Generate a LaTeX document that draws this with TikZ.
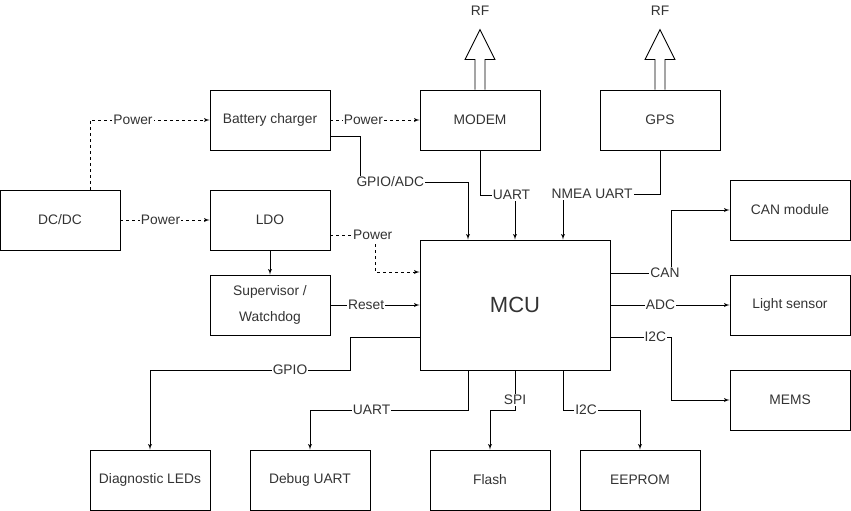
\documentclass[tikz,border=0pt]{standalone}
\usepackage{fontspec}
\setmainfont{Liberation Sans}
\usetikzlibrary{shapes,arrows}
\tikzstyle{block} = [draw, rectangle, minimum width=120pt, minimum height=60pt,
    inner sep=0pt, align=center, text=black!80, font=\fontsize{13.8}{16}\selectfont]
\tikzstyle{line} = [draw, -latex']
\tikzstyle{pline} = [draw, dashed, -latex']
\tikzstyle{lbl} = [fill=white, inner sep=1pt, text=black!80, font=\fontsize{13.8}{16}\selectfont]

\begin{document}
\begin{tikzpicture}[x=1pt, y=-1pt, line width=0.9pt]
    \useasboundingbox (0,0) rectangle (851,511);
    \node [block] (dcdc) at (60,220) {DC/DC};
    \node [block] (charger) at (270,120) {Battery charger};
    \node [block] (ldo) at (270,220) {LDO};
    \node [block] (super) at (270,305) {Supervisor /\\[10pt]Watchdog};
    \node [block] (modem) at (480,120) {MODEM};
    \node [block] (gps) at (660,120) {GPS};
    \node [block, minimum width=190pt, minimum height=130pt, font=\fontsize{22}{26}\selectfont] (mcu) at (515,305) {MCU};
    \node [block] (can) at (790,210) {CAN module};
    \node [block] (light) at (790,305) {Light sensor};
    \node [block] (mems) at (790,400) {MEMS};
    \node [block] (leds) at (150,480) {Diagnostic LEDs};
    \node [block] (dbg) at (310,480) {Debug UART};
    \node [block] (flash) at (490,480) {Flash};
    \node [block] (eeprom) at (640,480) {EEPROM};
    \node [lbl] (rfm) at (480,11) {RF};
    \node [lbl] (rfg) at (660,11) {RF};
    % antennas
    \draw ([xshift=-5pt]modem.north) -- ++(0,-30) -- ++(-10,0) -- ++(15,-30) -- ++(15,30) -- ++(-10,0) -- ++(0,30);
    \draw ([xshift=-5pt]gps.north) -- ++(0,-30) -- ++(-10,0) -- ++(15,-30) -- ++(15,30) -- ++(-10,0) -- ++(0,30);
    % power
    \path [pline] ([xshift=30pt]dcdc.north) |- node [lbl, pos=0.68] {Power} (charger.west);
    \path [pline] (dcdc) -- node [lbl, pos=0.45] {Power} (ldo);
    \path [pline] (charger) -- node [lbl, pos=0.37] {Power} (modem);
    \path [pline] ([yshift=-15pt]ldo.east) -- node [lbl, pos=0.95] {Power} (375,235) |- ([yshift=33pt]mcu.west);
    \path [line] (ldo) -- (super);
    \path [line] (super) -- node [lbl, pos=0.4] {Reset} (mcu.west |- super);
    % inputs to MCU
    \path [line] ([yshift=-16pt]charger.east) -| (360,182) -- node [lbl, pos=0.28] {GPIO/ADC} (468,182) -- ([xshift=-47pt]mcu.north);
    \path [line] (modem.south) -- (480,195) -- node [lbl, pos=0.9] {UART} (515,195) -- (mcu.north);
    \path [line] (gps.south) -- (660,194) -- node [lbl, pos=0.7] {NMEA UART} (563,194) -- ([xshift=48pt]mcu.north);
    % right side
    \path [line] ([yshift=32pt]mcu.east) -- node [lbl, pos=0.9] {CAN} (671,273) |- (can.west);
    \path [line] (mcu.east) -- node [lbl, pos=0.42] {ADC} (light.west);
    \path [line] ([yshift=-32pt]mcu.east) -- node [lbl, pos=0.74] {I2C} (671,337) |- (mems.west);
    % bottom
    \path [line] ([yshift=-32pt]mcu.west) -- (350,337) -- (350,370) -- node [lbl, pos=0.3] {GPIO} (150,370) -- (leds.north);
    \path [line] ([xshift=-47pt]mcu.south) -- (468,410) -- node [lbl, pos=0.61] {UART} (310,410) -- (dbg.north);
    \path [line] (mcu.south) -- node [lbl, pos=0.75] {SPI} (515,410) -- (490,410) -- (flash.north);
    \path [line] ([xshift=48pt]mcu.south) -- (563,410) -- node [lbl, pos=0.3] {I2C} (640,410) -- (eeprom.north);
\end{tikzpicture}
\end{document}
